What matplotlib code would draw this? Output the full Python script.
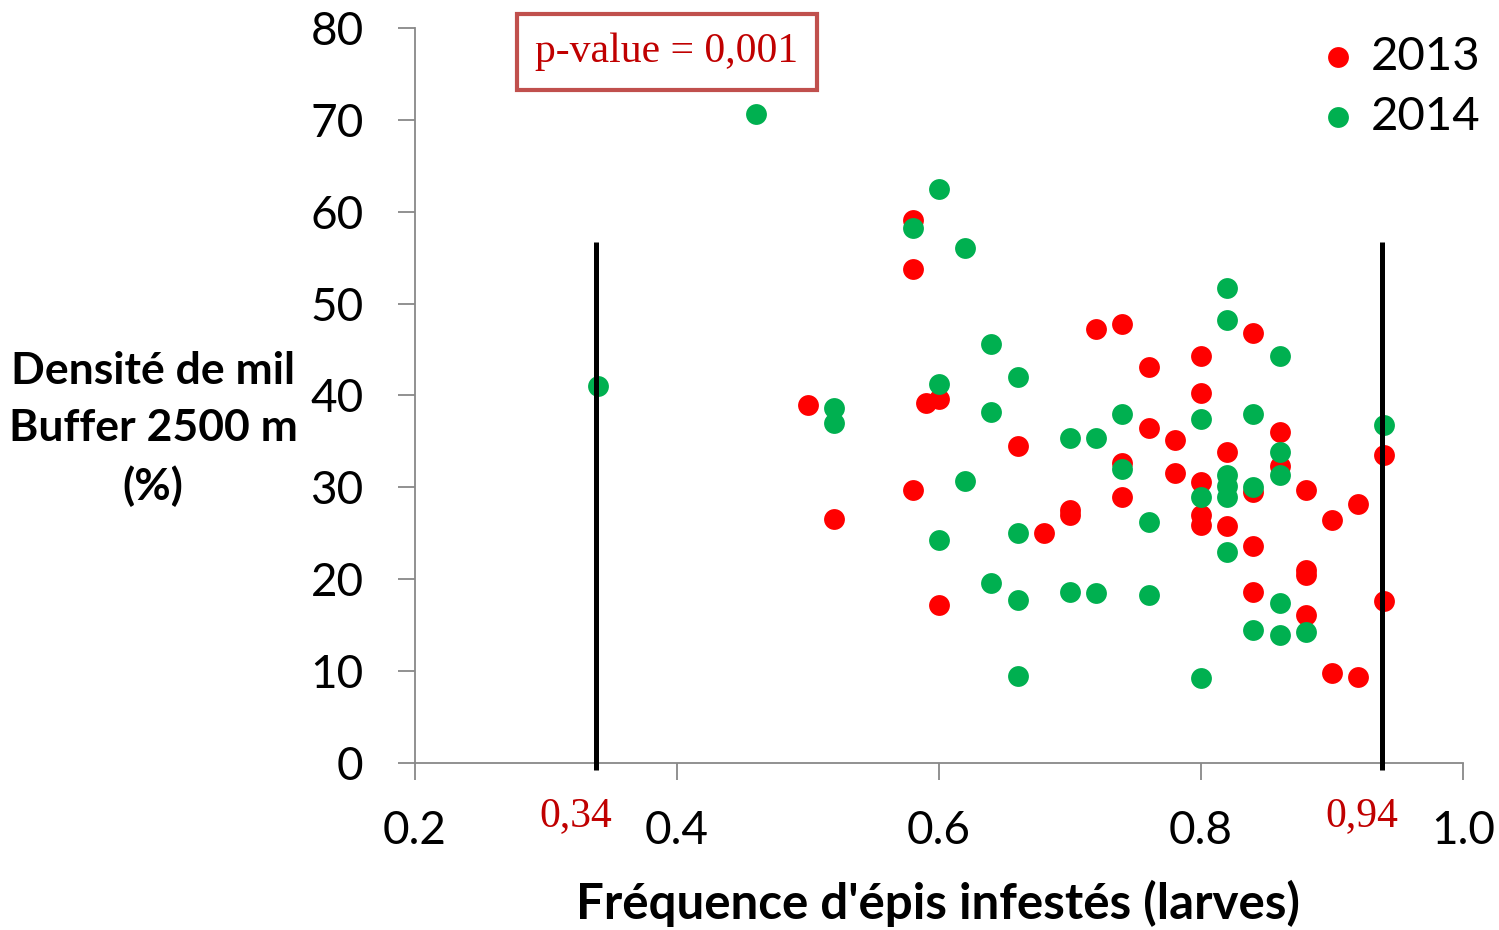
import matplotlib
matplotlib.use("Agg")
from matplotlib import pyplot as plt

# data
x_2013 = [0.50, 0.52, 0.58, 0.58, 0.58, 0.59, 0.60, 0.60, 0.66, 0.68,
          0.70, 0.70, 0.72, 0.74, 0.74, 0.74, 0.76, 0.76, 0.78, 0.78,
          0.80, 0.80, 0.80, 0.80, 0.80, 0.82, 0.82, 0.84, 0.84, 0.84,
          0.84, 0.86, 0.86, 0.88, 0.88, 0.88, 0.88, 0.90, 0.90, 0.92,
          0.92, 0.94, 0.94]
y_2013 = [39.0, 26.6, 59.1, 53.8, 29.7, 39.2, 39.6, 17.2, 34.5, 25.0,
          27.5, 27.0, 47.2, 47.8, 32.6, 29.0, 43.1, 36.5, 35.2, 31.6,
          44.3, 40.3, 30.6, 27.0, 25.9, 33.9, 25.8, 46.8, 29.5, 23.6,
          18.6, 36.0, 32.3, 29.7, 21.0, 20.5, 16.1, 26.4, 9.8, 28.2,
          9.4, 33.5, 17.6]

x_2014 = [0.34, 0.46, 0.52, 0.52, 0.58, 0.60, 0.60, 0.60, 0.62, 0.62,
          0.64, 0.64, 0.64, 0.66, 0.66, 0.66, 0.66, 0.70, 0.70, 0.72,
          0.72, 0.74, 0.74, 0.76, 0.76, 0.80, 0.80, 0.80, 0.82, 0.82,
          0.82, 0.82, 0.82, 0.82, 0.84, 0.84, 0.84, 0.86, 0.86, 0.86,
          0.86, 0.86, 0.88, 0.94]
y_2014 = [41.0, 70.6, 38.6, 37.0, 58.2, 62.5, 41.3, 24.3, 56.1, 30.7,
          45.6, 38.2, 19.6, 42.0, 25.0, 17.7, 9.5, 35.4, 18.6, 35.4,
          18.5, 38.0, 32.0, 26.2, 18.3, 37.4, 29.0, 9.3, 51.7, 48.2,
          31.3, 30.2, 29.0, 23.0, 38.0, 30.0, 14.5, 44.3, 33.9, 31.3,
          17.4, 13.9, 14.3, 36.8]

thresholds = [0.34, 0.94]
threshold_labels = ["0,34", "0,94"]
line_top = 56.7

W, H = 1499, 930
fig = plt.figure(figsize=(W / 100, H / 100), dpi=100)
ax = fig.add_axes([415 / W, 1 - 763 / H, (1463 - 415) / W, (763 - 28) / H])

ax.scatter(x_2013, y_2013, s=225, color="#FF0000", linewidths=0, label="2013", zorder=3)
ax.scatter(x_2014, y_2014, s=225, color="#00B050", linewidths=0, label="2014", zorder=4)

for t in thresholds:
    ax.plot([t - 0.002, t - 0.002], [-0.8, line_top], color="black", lw=3.6,
            zorder=5, solid_capstyle="butt", clip_on=False)

ax.set_xlim(0.2, 1.0)
ax.set_ylim(0, 80)
ax.set_xticks([0.2, 0.4, 0.6, 0.8, 1.0])
ax.set_xticklabels(["0.2", "0.4", "0.6", "0.8", "1.0"])
ax.set_yticks(range(0, 81, 10))

for s in ["top", "right"]:
    ax.spines[s].set_visible(False)
for s in ["left", "bottom"]:
    ax.spines[s].set_color("#888888")
    ax.spines[s].set_linewidth(1.3)

ax.tick_params(axis="both", color="#888888", width=1.3, length=12,
               labelsize=33)
ax.tick_params(axis="x", pad=22)
ax.tick_params(axis="y", pad=25)
for lab in ax.get_xticklabels() + ax.get_yticklabels():
    lab.set_family("Lato")

# red threshold labels
for t, lab in zip(thresholds, threshold_labels):
    ax.text(t - 0.017, -3.7, lab, ha="center", va="top", color="#C00000",
            fontsize=30, family="Liberation Serif")

# p-value box
fig.text(667 / W, 1 - 52 / H, "p-value = 0,001", ha="center", va="center",
         color="#C00000", fontsize=30, family="Liberation Serif",
         bbox=dict(boxstyle="square,pad=0.45", fc="white", ec="#C0504D", lw=3))

leg = ax.legend(loc="upper right", bbox_to_anchor=(1.035, 1.015), frameon=False,
                prop={"family": "Lato", "size": 34}, handletextpad=0.2,
                labelspacing=0.38, markerscale=1.0, borderaxespad=0,
                handlelength=1.0)

fig.text(153 / W, 1 - 429 / H, "Densité de mil\nBuffer 2500 m\n(%)",
         ha="center", va="center", fontsize=32, fontweight="bold",
         family="Lato", linespacing=1.5)
fig.text(938 / W, 1 - 903 / H, "Fréquence d'épis infestés (larves)",
         ha="center", va="center", fontsize=35.5, fontweight="bold", family="Lato")

fig.savefig("out.png", dpi=100)
